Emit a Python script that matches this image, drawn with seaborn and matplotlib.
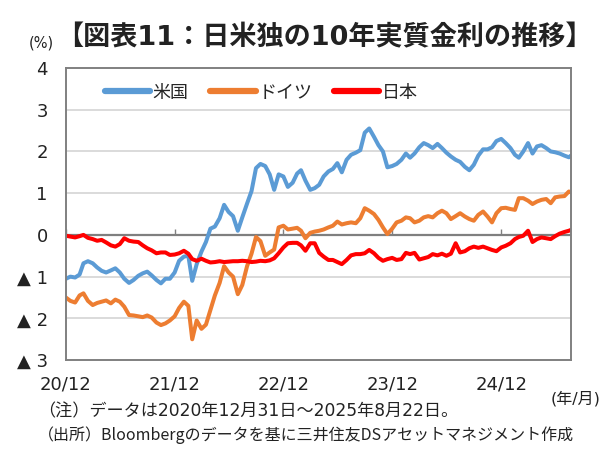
import numpy as np
import pandas as pd
import matplotlib
matplotlib.use('Agg')
import matplotlib.pyplot as plt
import seaborn as sns

# semi-monthly observation grid (15th / month end), 2020-12-31 .. 2025-08-22
START, END = '2020-12-31', '2025-08-22'
dates = pd.date_range(START, END, freq='SME').append(pd.DatetimeIndex([END]))

us = [-1.05, -1.0, -1.02, -0.95, -0.68, -0.63, -0.68, -0.78, -0.86, -0.9,
      -0.85, -0.8, -0.9, -1.05, -1.15, -1.08, -0.98, -0.92, -0.88, -0.97,
      -1.08, -1.16, -1.05, -1.05, -0.9, -0.62, -0.52, -0.5, -1.1, -0.7,
      -0.4, -0.17, 0.15, 0.2, 0.4, 0.72, 0.55, 0.45, 0.1, 0.42,
      0.75, 1.05, 1.6, 1.7, 1.65, 1.45, 1.08, 1.45, 1.4, 1.15,
      1.25, 1.47, 1.55, 1.3, 1.08, 1.12, 1.2, 1.4, 1.52, 1.58,
      1.72, 1.5, 1.8, 1.92, 1.97, 2.03, 2.45, 2.55, 2.35, 2.15,
      2.0, 1.62, 1.65, 1.7, 1.8, 1.95, 1.85, 1.95, 2.1, 2.2,
      2.15, 2.08, 2.18, 2.08, 1.97, 1.88, 1.8, 1.75, 1.63, 1.55,
      1.68, 1.9, 2.05, 2.05, 2.1, 2.25, 2.3, 2.2, 2.08, 1.92,
      1.85, 2.0, 2.2, 1.95, 2.12, 2.15, 2.08, 2.0, 1.98, 1.95,
      1.9, 1.86, 1.9]
germany = [-1.5, -1.58, -1.62, -1.45, -1.4, -1.58, -1.68, -1.63, -1.6, -1.57,
           -1.64, -1.55, -1.6, -1.72, -1.92, -1.93, -1.95, -1.97, -1.93, -1.98,
           -2.1, -2.16, -2.12, -2.05, -1.95, -1.75, -1.6, -1.7, -2.5, -2.05,
           -2.25, -2.15, -1.8, -1.45, -1.15, -0.75, -0.9, -1.0, -1.42, -1.2,
           -0.75, -0.45, -0.05, -0.15, -0.5, -0.42, -0.35, 0.18, 0.22, 0.13,
           0.15, 0.17, 0.1, -0.08, 0.05, 0.08, 0.1, 0.13, 0.18, 0.22,
           0.32, 0.25, 0.28, 0.3, 0.28, 0.4, 0.64, 0.58, 0.5, 0.36,
           0.18, 0.02, 0.15, 0.3, 0.34, 0.42, 0.4, 0.3, 0.34, 0.42,
           0.45, 0.42, 0.52, 0.58, 0.52, 0.38, 0.45, 0.52, 0.44, 0.38,
           0.34, 0.48, 0.56, 0.44, 0.3, 0.52, 0.64, 0.65, 0.62, 0.6,
           0.88, 0.88, 0.82, 0.74, 0.8, 0.84, 0.86, 0.76, 0.9, 0.92,
           0.93, 1.04, 1.02]
japan = [-0.02, -0.04, -0.06, -0.03, 0.0, -0.07, -0.1, -0.14, -0.12, -0.18,
         -0.25, -0.28, -0.22, -0.08, -0.14, -0.16, -0.17, -0.25, -0.32, -0.37,
         -0.44, -0.42, -0.42, -0.48, -0.47, -0.44, -0.38, -0.45, -0.58, -0.62,
         -0.57, -0.62, -0.66, -0.65, -0.63, -0.65, -0.64, -0.63, -0.63, -0.62,
         -0.63, -0.65, -0.64, -0.62, -0.63, -0.61, -0.56, -0.44, -0.3, -0.2,
         -0.19, -0.19, -0.25, -0.38, -0.2, -0.2, -0.43, -0.52, -0.6, -0.6,
         -0.65, -0.7, -0.6, -0.49, -0.46, -0.46, -0.44, -0.36, -0.44, -0.55,
         -0.62, -0.58, -0.55, -0.6, -0.58, -0.43, -0.46, -0.43, -0.59, -0.56,
         -0.53, -0.46, -0.49, -0.45, -0.5, -0.45, -0.2, -0.42, -0.39, -0.32,
         -0.28, -0.31, -0.28, -0.32, -0.36, -0.39, -0.3, -0.26, -0.2, -0.1,
         -0.05, -0.02, 0.1, -0.17, -0.1, -0.06, -0.08, -0.1, -0.03, 0.03,
         0.07, 0.1, 0.12]

series_names = ['米国', 'ドイツ', '日本']
series_colors = ['#5B9BD5', '#ED7D31', '#FF0000']
yticks = [-3, -2, -1, 0, 1, 2, 3, 4]
ytick_labels = ['▲ 3', '▲ 2', '▲ 1', '0', '1', '2', '3', '4']
xtick_dates = ['2020-12-31', '2021-12-31', '2022-12-31', '2023-12-31', '2024-12-31']
xtick_labels = ['20/12', '21/12', '22/12', '23/12', '24/12']

title = '【図表11：日米独の10年実質金利の推移】'
note1 = '（注）データは2020年12月31日～2025年8月22日。'
note2 = '（出所）Bloombergのデータを基に三井住友DSアセットマネジメント作成'

n = min(len(dates), len(us), len(germany), len(japan))
df = pd.DataFrame({'date': np.tile(dates[:n], 3),
                   'value': us[:n] + germany[:n] + japan[:n],
                   'country': np.repeat(series_names, n)})

sns.set_theme(style='white')
# latin / digits in DejaVu (wide, like the original), kana & kanji in Noto CJK
plt.rcParams['font.family'] = ['DejaVu Sans', 'Noto Sans CJK JP']
cjk_only = ['Noto Sans CJK JP', 'DejaVu Sans']
ink = '#222222'
grey = '#808080'

fig = plt.figure(figsize=(6.1, 4.53), dpi=100)
ax = fig.add_axes([0.108, 0.205, 0.828, 0.645])

for y in yticks[1:-1]:
    if y != 0:
        ax.axhline(y, color='#D4D4D4', lw=1.2, zorder=0)
ax.axhline(0, color='#7F7F7F', lw=1.6, zorder=1)
# small year ticks standing on the zero line
ax.vlines(pd.to_datetime(xtick_dates), 0, 0.14, color=grey, lw=1, zorder=1)

sns.lineplot(data=df, x='date', y='value', hue='country', hue_order=series_names,
             palette=series_colors, linewidth=2.9, ax=ax, legend=False, zorder=2)

ax.set_xlim(pd.Timestamp(START), pd.Timestamp(END))
ax.set_ylim(-3, 4)
ax.set_yticks(yticks, labels=ytick_labels)
ax.set_xticks(pd.to_datetime(xtick_dates), labels=xtick_labels)
ax.set_xlabel('')
ax.set_ylabel('')
ax.tick_params(axis='x', length=0, pad=11, labelsize=13, labelcolor=ink)
ax.tick_params(axis='y', direction='in', length=4, width=1, color=grey,
               pad=13, labelsize=13, labelcolor=ink)
for s in ax.spines.values():
    s.set_color(grey)
    s.set_linewidth(1.4)

handles = [plt.Line2D([], [], color=c, lw=4.5, solid_capstyle='round') for c in series_colors]
ax.legend(handles, series_names, ncol=3, frameon=False, loc='center left',
          bbox_to_anchor=(0.045, 0.915), fontsize=13, handlelength=2.5,
          handletextpad=0.15, columnspacing=1.2)

fig.text(0.092, 0.916, title, ha='left', va='center', fontsize=19.5,
         fontweight='bold', color=ink)
fig.text(0.068, 0.905, '(%)', ha='center', va='center', fontsize=10.5, color=ink)
fig.text(0.985, 0.121, '(年/月)', ha='right', va='center', fontsize=11.5, color=ink)
fig.text(0.062, 0.091, note1, ha='left', va='center', fontsize=12.3, color=ink)
fig.text(0.062, 0.040, note2, ha='left', va='center', fontsize=11.5, color=ink,
         family=cjk_only)

fig.savefig('out.png', dpi=100)
